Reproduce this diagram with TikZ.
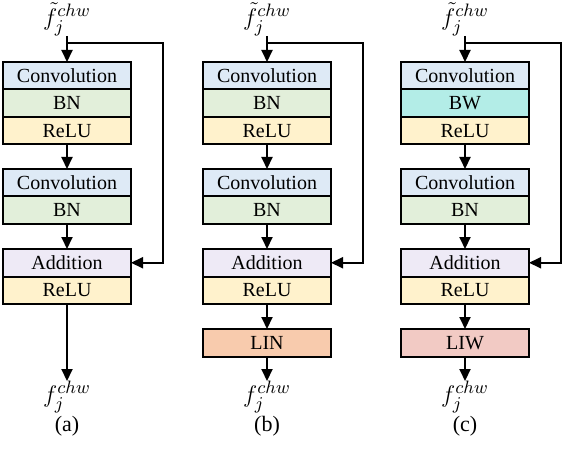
\documentclass[tikz,border=0pt]{standalone}
\usepackage{amsmath}
\usepackage{fontspec}
\setmainfont{Liberation Serif}
\usetikzlibrary{positioning,arrows.meta}

\definecolor{convblue}{HTML}{DEEAF6}
\definecolor{bngreen}{HTML}{E2EFDA}
\definecolor{reluyellow}{HTML}{FFF2CC}
\definecolor{addlilac}{HTML}{EEEAF6}
\definecolor{bwcyan}{HTML}{B3EDE7}
\definecolor{linorange}{HTML}{F8CBAD}
\definecolor{liwpink}{HTML}{F2CAC4}

\tikzset{
  layer/.style={draw,line width=1pt,outer sep=0pt,inner sep=0pt,
    minimum width=64pt,minimum height=13.75pt,font=\fontsize{10}{12}\selectfont},
  flow/.style={line width=1pt,-{Triangle[length=6pt,width=5.5pt]}},
  feat/.style={inner sep=0pt,font=\fontsize{13}{15}\selectfont},
}

\begin{document}
\begin{tikzpicture}[x=0.5pt,y=-0.5pt]
\useasboundingbox (0,0) rectangle (565,448);
% common residual block
\foreach \c/\cx/\nrm/\ncol in {a/67/BN/bngreen,b/267/BN/bngreen,c/465/BW/bwcyan}
	{
	\node[feat,anchor=south] (in\c) at (\cx,36) {$\tilde{f}_j^{chw}$};
	\node[layer,fill=convblue,anchor=north] (conv1\c) at (\cx,62) {Convolution};
	\node[layer,fill=\ncol,below=0pt of conv1\c] (norm1\c) {\nrm};
	\node[layer,fill=reluyellow,below=0pt of norm1\c] (relu1\c) {ReLU};
	\node[layer,fill=convblue,below=12.25pt of relu1\c] (conv2\c) {Convolution};
	\node[layer,fill=bngreen,below=0pt of conv2\c] (norm2\c) {BN};
	\node[layer,fill=addlilac,below=12.5pt of norm2\c] (add\c) {Addition};
	\node[layer,fill=reluyellow,below=0pt of add\c] (relu2\c) {ReLU};
	\node[feat,anchor=north] (out\c) at (\cx,381) {$f_j^{chw}$};
	\node[font=\fontsize{11}{13}\selectfont] (cap\c) at (\cx,426) {(\c)};
	\coordinate (split\c) at (\cx,43);
	\coordinate (loop\c) at (\cx+96,43);
	\draw[flow] (in\c) -- (conv1\c);
	\draw[flow] (relu1\c) -- (conv2\c);
	\draw[flow] (norm2\c) -- (add\c);
	\draw[flow] (split\c) -- (loop\c) |- (add\c);
	}
% instance normalization / whitening
\foreach \c/\nm/\col in {b/LIN/linorange,c/LIW/liwpink}
	{
	\node[layer,fill=\col,below=12.5pt of relu2\c] (last\c) {\nm};
	\draw[flow] (relu2\c) -- (last\c);
	\draw[flow] (last\c) -- (out\c);
	}
\draw[flow] (relu2a) -- (outa);
\end{tikzpicture}
\end{document}
